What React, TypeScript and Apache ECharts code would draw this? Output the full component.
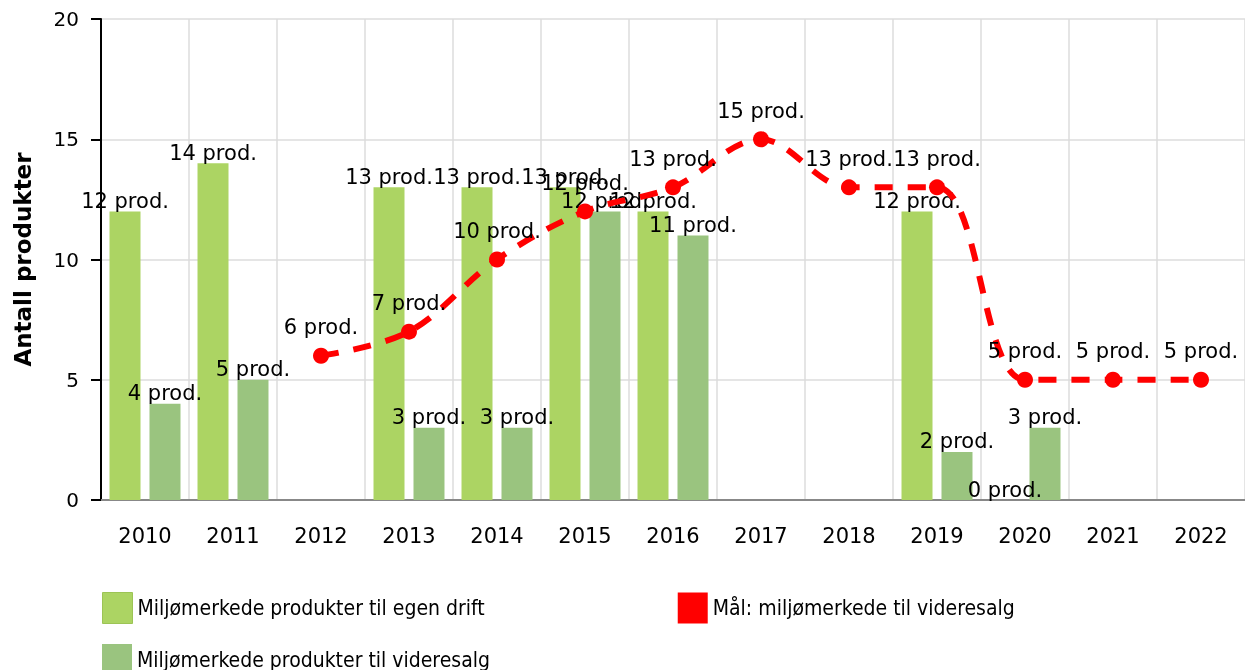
import React, { useEffect, useRef } from "react";
import * as echarts from "echarts";

const years = ["2010", "2011", "2012", "2013", "2014", "2015", "2016", "2017", "2018", "2019", "2020", "2021", "2022"];
const egenDrift = [12, 14, null, 13, 13, 13, 12, null, null, 12, 0, null, null];
const videresalg = [4, 5, null, 3, 3, 12, 11, null, null, 2, 3, null, null];
const maal = [null, null, 6, 7, 10, 12, 13, 15, 13, 13, 5, 5, 5];

const NAME_EGEN = "Miljømerkede produkter til egen drift";
const NAME_VIDERE = "Miljømerkede produkter til videresalg";
const NAME_MAAL = "Mål: miljømerkede til videresalg";

const FONT = "DejaVu Sans";
const LEGEND_FONT = "'DejaVu Sans Condensed', 'DejaVu Sans'";

export default function App() {
  const ref = useRef<HTMLDivElement>(null);
  useEffect(() => {
    if (!ref.current) return;
    const chart = echarts.init(ref.current, null, { renderer: "svg" });
    const label = {
      show: true,
      position: "top",
      distance: 0,
      color: "#000",
      fontFamily: FONT,
      fontSize: 21,
      formatter: (p: any) => `${p.value} prod.`,
    };
    const legendText = { fontFamily: LEGEND_FONT, fontSize: 21, color: "#000" };
    chart.setOption({
      animation: false,
      textStyle: { fontFamily: FONT },
      grid: { left: 101, top: 19, width: 1150.5, height: 481, containLabel: false },
      legend: [
        {
          data: [
            { name: NAME_EGEN, itemStyle: { borderColor: "#9cc455", borderWidth: 1 } },
            NAME_MAAL,
          ],
          left: 97,
          top: 587,
          itemWidth: 30,
          itemHeight: 31,
          itemGap: 193,
          icon: "rect",
          textStyle: { ...legendText, width: 350 },
        },
        {
          data: [NAME_VIDERE],
          left: 97,
          top: 639,
          itemWidth: 30,
          itemHeight: 31,
          icon: "rect",
          textStyle: legendText,
        },
      ],
      xAxis: {
        type: "category",
        data: years,
        axisLine: { lineStyle: { color: "#888", width: 2 } },
        axisTick: { alignWithLabel: true, length: 9, lineStyle: { color: "#888", width: 2 } },
        axisLabel: { color: "#000", fontFamily: FONT, fontSize: 21, margin: 25 },
        splitLine: { show: true, lineStyle: { color: "#dcdcdc", width: 1.5 } },
      },
      yAxis: {
        type: "value",
        min: 0,
        max: 20,
        interval: 5,
        name: "Antall produkter",
        nameLocation: "middle",
        nameGap: 67,
        nameRotate: 90,
        nameTextStyle: { fontFamily: FONT, fontSize: 23, fontWeight: "bold", color: "#000" },
        axisLine: { show: true, lineStyle: { color: "#000", width: 2 } },
        axisTick: { show: true, length: 10, lineStyle: { color: "#000", width: 2 } },
        axisLabel: { color: "#000", fontFamily: FONT, fontSize: 20, margin: 22 },
        splitLine: { show: true, lineStyle: { color: "#dcdcdc", width: 1.5 } },
      },
      series: [
        {
          name: NAME_EGEN,
          type: "bar",
          data: egenDrift,
          barWidth: 31,
          barGap: "29%",
          itemStyle: { color: "#acd463" },
          label,
        },
        {
          name: NAME_VIDERE,
          type: "bar",
          data: videresalg,
          barWidth: 31,
          itemStyle: { color: "#9ac47f" },
          label,
        },
        {
          name: NAME_MAAL,
          type: "line",
          data: maal,
          smooth: 0.35,
          symbol: "circle",
          symbolSize: 16,
          itemStyle: { color: "#ff0000" },
          lineStyle: { color: "#ff0000", width: 6, type: [18, 15] },
          label: { ...label, distance: 10 },
        },
      ],
    });
    return () => chart.dispose();
  }, []);
  return <div ref={ref} style={{ position: "fixed", left: 0, top: 0, width: 1245, height: 670 }} />;
}
